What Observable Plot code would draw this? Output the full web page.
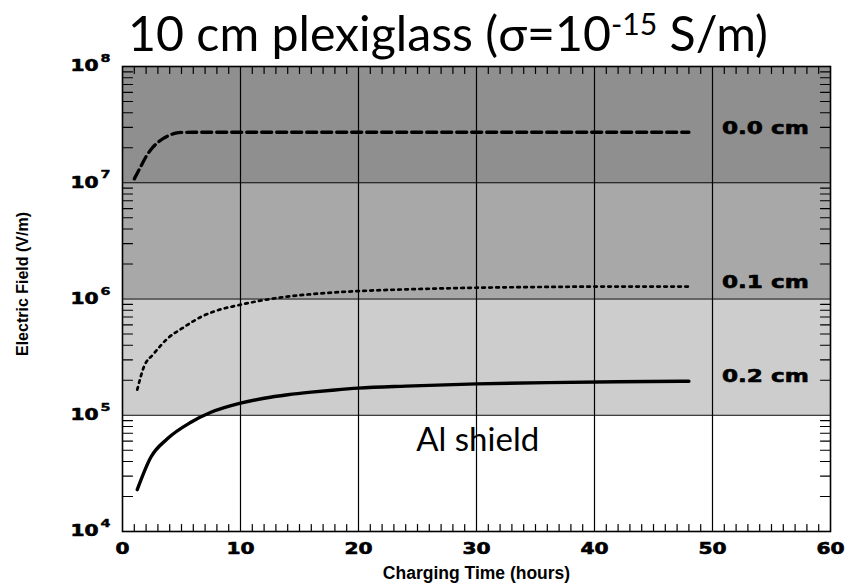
<!DOCTYPE html>
<html>
<head>
<meta charset="utf-8">
<script src="https://cdn.jsdelivr.net/npm/d3@7"></script>
<script src="https://cdn.jsdelivr.net/npm/@observablehq/plot@0.6"></script>
<style>
  html, body { margin: 0; padding: 0; background: #fff; }
  #wrap { position: relative; width: 846px; height: 587px; overflow: hidden; }
  #title { position: relative; height: 52px; width: 846px; }
  #title span { position: absolute; left: 128px; top: 5px; font-family: Lato, "Open Sans", sans-serif; font-size: 48px; line-height: 56px; white-space: nowrap; color: #000; transform-origin: 0 0; }
  #title sup { font-size: 30px; position: relative; top: -16px; vertical-align: baseline; line-height: 0; }
  #chart svg { display: block; overflow: visible; }
</style>
</head>
<body>
<div id="wrap">
  <div id="title"><span id="tt">10 cm plexiglass (σ=10<sup>-15</sup> S/m)</span></div>
  <div id="chart"></div>
</div>
<script>
// ---- data ----
const xTicks = [0, 10, 20, 30, 40, 50, 60];
const yTicks = [1e4, 1e5, 1e6, 1e7, 1e8];
const yExp = ["4", "5", "6", "7", "8"];

// 0.0 cm curve (dashed)
const t0 = [1, 1.5, 2.0, 2.5, 3.0, 3.5, 4.0, 4.5, 5, 6, 8, 10, 15, 20, 25, 30, 35, 40, 45, 48];
const e0 = [1.08e7, 1.35e7, 1.68e7, 1.98e7, 2.22e7, 2.42e7, 2.57e7, 2.67e7, 2.71e7, 2.72e7, 2.72e7, 2.72e7, 2.72e7, 2.72e7, 2.72e7, 2.72e7, 2.72e7, 2.72e7, 2.72e7, 2.72e7];

// 0.1 cm curve (dotted)
const t1 = [1.25, 1.8, 2.65, 3.8, 5.2, 6.6, 8.0, 9.7, 12, 14, 16, 18, 20, 24, 30, 36, 42, 48];
const e1 = [1.66e5, 2.59e5, 3.38e5, 4.55e5, 5.72e5, 6.97e5, 7.96e5, 8.79e5, 9.8e5, 1.05e6, 1.1e6, 1.14e6, 1.17e6, 1.21e6, 1.25e6, 1.27e6, 1.28e6, 1.28e6];

// 0.2 cm curve (solid)
const t2 = [1.25, 2.4, 3.8, 5.8, 7.5, 10, 12, 14, 16, 18, 20, 24, 30, 36, 42, 48];
const e2 = [2.29e4, 4.35e4, 6.27e4, 8.7e4, 1.06e5, 1.27e5, 1.40e5, 1.50e5, 1.58e5, 1.65e5, 1.71e5, 1.78e5, 1.86e5, 1.91e5, 1.94e5, 1.96e5];

// shading bands
const bandLo = [1e5, 1e6, 1e7];
const bandHi = [1e6, 1e7, 1e8];

// curve labels
const curveLabels = ["0.0 cm", "0.1 cm", "0.2 cm"];
const curveLabelY = [2.93e7, 1.39e6, 2.15e5];

const xTitle = "Charging Time (hours)";
const yTitle = "Electric Field (V/m)";
const annotation = "Al shield";

// ---- derived ----
const bandFill = ["#cdcdcd", "#a8a8a8", "#8f8f8f"];
const bands = bandLo.map((lo, i) => ({lo, hi: bandHi[i], i}));
const s0 = t0.map((t, i) => ({t, e: e0[i]}));
const s1 = t1.map((t, i) => ({t, e: e1[i]}));
const s2 = t2.map((t, i) => ({t, e: e2[i]}));
const minorX = d3.range(1, 60).filter(v => v % 10 !== 0);
const minorY = [];
for (let d = 4; d < 8; d++) for (let m = 2; m <= 9; m++) minorY.push(m * Math.pow(10, d));
const yLab = yTicks.map((v, i) => ({v, exp: yExp[i]}));
const cmLab = curveLabels.map((s, i) => ({s, y: curveLabelY[i]}));

const line = {draw(context, l) { context.moveTo(0, 0); context.lineTo(0, -l); }};
const tickFont = "'DejaVu Sans', 'Liberation Sans', sans-serif";
const labFont = "'Liberation Sans', Arial, sans-serif";
const heavy = {fontFamily: tickFont, fontWeight: "bold", fill: "#000", stroke: "#000", strokeWidth: 0.6};

const chart = Plot.plot({
  width: 846,
  height: 535,
  marginTop: 14,
  marginBottom: 56,
  marginLeft: 122,
  marginRight: 16,
  x: {domain: [0, 60], axis: null},
  y: {type: "log", domain: [1e4, 1e8], axis: null},
  style: {background: "transparent", overflow: "visible"},
  marks: [
    Plot.rect(bands, {x1: 0, x2: 60, y1: "lo", y2: "hi", fill: d => bandFill[d.i]}),
    Plot.ruleX([10, 20, 30, 40, 50], {stroke: "#000", strokeWidth: 1.2}),
    Plot.ruleY([1e5, 1e6, 1e7], {stroke: "#000", strokeWidth: 1.2}),
    // minor ticks
    Plot.vector(minorX, {x: d => d, frameAnchor: "bottom", length: 7, rotate: 0, anchor: "start", shape: line, stroke: "#000", strokeWidth: 1.2}),
    Plot.vector(minorX, {x: d => d, frameAnchor: "top", length: 7, rotate: 180, anchor: "start", shape: line, stroke: "#000", strokeWidth: 1.2}),
    Plot.vector(minorY, {y: d => d, frameAnchor: "left", length: 10, rotate: 90, anchor: "start", shape: line, stroke: "#000", strokeWidth: 1.2}),
    Plot.vector(minorY, {y: d => d, frameAnchor: "right", length: 10, rotate: -90, anchor: "start", shape: line, stroke: "#000", strokeWidth: 1.2}),
    // curves
    Plot.line(s0, {x: "t", y: "e", stroke: "#000", strokeWidth: 3.3, strokeDasharray: "10,5", curve: "monotone-x"}),
    Plot.line(s1, {x: "t", y: "e", stroke: "#000", strokeWidth: 2.7, strokeDasharray: "2.6,4.4", curve: "monotone-x"}),
    Plot.line(s2, {x: "t", y: "e", stroke: "#000", strokeWidth: 3.4, curve: "monotone-x"}),
    Plot.frame({stroke: "#000", strokeWidth: 1.6}),
    // curve labels
    Plot.text(cmLab, {x: () => 50.8, y: "y", text: "s", textAnchor: "start", fontSize: 17, ...heavy}),
    Plot.text([annotation], {x: () => 24.9, y: () => 6.1e4, text: d => d, textAnchor: "start", fontFamily: "Lato, 'Open Sans', sans-serif", fontSize: 33}),
    // x tick labels
    Plot.text(xTicks, {x: d => d, frameAnchor: "bottom", dy: 22, text: d => String(d), textAnchor: "middle", fontSize: 15.5, ...heavy}),
    Plot.text([xTitle], {frameAnchor: "bottom", dy: 47, text: d => d, textAnchor: "middle", fontFamily: labFont, fontWeight: "bold", fontSize: 17.5}),
    // y tick labels
    Plot.text(yLab, {y: "v", frameAnchor: "left", dx: -24, dy: 0, text: () => "10", textAnchor: "end", fontSize: 15.5, ...heavy}),
    Plot.text(yLab, {y: "v", frameAnchor: "left", dx: -22, dy: -8, text: "exp", textAnchor: "start", fontSize: 11, ...heavy, strokeWidth: 0.4}),
    Plot.text([yTitle], {frameAnchor: "left", dx: -100, dy: -15, rotate: -90, text: d => d, textAnchor: "middle", fontFamily: labFont, fontWeight: "bold", fontSize: 16})
  ]
});
document.getElementById("chart").appendChild(chart);

// stretch the bold tick/label lettering horizontally, like the wide reference font
const stretch = new Map([
  ...curveLabels.map(s => [s, 1.36]),
  ...xTicks.map(v => [String(v), 1.3]),
  ...yExp.map(s => [s, 1.3])
]);
d3.select(chart).selectAll("text").each(function() {
  const s = this.textContent;
  if (stretch.has(s)) {
    const len = this.getComputedTextLength();
    this.setAttribute("textLength", (len * stretch.get(s)).toFixed(1));
    this.setAttribute("lengthAdjust", "spacingAndGlyphs");
  }
});

// fit title width to reference
const tt = document.getElementById("tt");
const w = tt.getBoundingClientRect().width;
tt.style.transform = `scaleX(${640 / w})`;
</script>
</body>
</html>
